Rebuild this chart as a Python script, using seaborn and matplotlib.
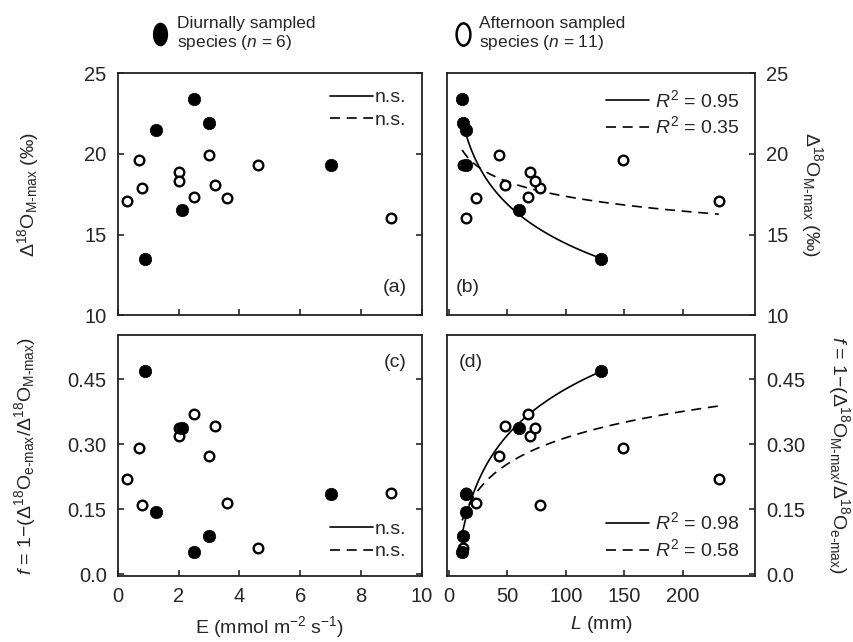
import numpy as np
import pandas as pd
import matplotlib
matplotlib.use("Agg")
import matplotlib.pyplot as plt
from matplotlib.lines import Line2D
import seaborn as sns

# --- Data ---
# Diurnally sampled species (filled circles)
E_DIURNAL = [0.9, 1.27, 2.1, 2.5, 3.0, 7.0]
D18O_DIURNAL = [13.5, 21.5, 16.5, 23.4, 21.9, 19.3]
F_DIURNAL = [0.47, 0.143, 0.337, 0.052, 0.089, 0.185]
L_DIURNAL = [130, 15, 60, 11.3, 12, 14.5]

# Afternoon sampled species (open circles)
E_AFTERNOON = [0.3, 0.7, 0.8, 2.0, 2.0, 3.0, 2.5, 3.2, 3.6, 4.6, 9.0]
D18O_AFTERNOON = [17.1, 19.6, 17.9, 18.9, 18.3, 19.9, 17.3, 18.05, 17.25, 19.3, 16.0]
F_AFTERNOON = [0.22, 0.291, 0.16, 0.318, 0.337, 0.273, 0.369, 0.342, 0.164, 0.06, 0.187]
L_AFTERNOON = [231, 149, 78, 69, 74, 43, 68, 48, 23, 12, 15]

# Legend texts
LEGEND_A = ["n.s.", "n.s."]
LEGEND_B = [r"$R^2$ = 0.95", r"$R^2$ = 0.35"]
LEGEND_C = ["n.s.", "n.s."]
LEGEND_D = [r"$R^2$ = 0.98", r"$R^2$ = 0.58"]

D18O_TICKS = [10, 15, 20, 25]
F_TICKS = [0.0, 0.15, 0.30, 0.45]
F_TICKLABELS = ["0.0", "0.15", "0.30", "0.45"]
E_TICKS = [0, 2, 4, 6, 8, 10]
L_TICKS = [0, 50, 100, 150, 200]

diurnal = pd.DataFrame({"E": E_DIURNAL, "d18O": D18O_DIURNAL, "f": F_DIURNAL, "L": L_DIURNAL})
afternoon = pd.DataFrame({"E": E_AFTERNOON, "d18O": D18O_AFTERNOON, "f": F_AFTERNOON, "L": L_AFTERNOON})
everyone = pd.concat([diurnal, afternoon], ignore_index=True)

# --- Style ---
sns.set_style("ticks")
plt.rcParams["font.family"] = ["Liberation Sans", "DejaVu Sans"]
plt.rcParams["mathtext.fontset"] = "custom"
plt.rcParams["mathtext.rm"] = "Liberation Sans"
plt.rcParams["mathtext.it"] = "Liberation Sans:italic"
plt.rcParams["mathtext.bf"] = "Liberation Sans:bold"
FS = 14
TICK_FS = 14.5

DASH = (0, (6, 4))
OPEN_KW = dict(s=48, color="white", edgecolor="black", linewidth=1.7, zorder=3)
FILLED_KW = dict(s=80, color="black", edgecolor="black", linewidth=0.5, zorder=4)


def style_axes(ax, right=False):
    for sp in ax.spines.values():
        sp.set_linewidth(1.3)
        sp.set_color("#222222")
    ax.tick_params(direction="in", length=4, width=1.2, labelsize=TICK_FS, pad=8,
                   left=not right, right=True, labelleft=not right, labelright=right,
                   bottom=True, top=False)


def draw_points(ax, xcol, ycol):
    sns.scatterplot(data=afternoon, x=xcol, y=ycol, ax=ax, **OPEN_KW)
    sns.scatterplot(data=diurnal, x=xcol, y=ycol, ax=ax, **FILLED_KW)


def draw_fits(ax, xcol, ycol):
    # log fits: diurnal species (solid) and all species (dashed)
    sns.regplot(data=diurnal, x=xcol, y=ycol, ax=ax, logx=True, scatter=False, ci=None,
                color="black", line_kws=dict(lw=1.2, zorder=2))
    sns.regplot(data=everyone, x=xcol, y=ycol, ax=ax, logx=True, scatter=False, ci=None,
                color="black", line_kws=dict(lw=1.2, ls=DASH, zorder=2))


def fit_legend(ax, labels, loc, pad):
    handles = [Line2D([], [], color="black", lw=1.2),
               Line2D([], [], color="black", lw=1.2, ls=DASH)]
    ax.legend(handles, labels, loc=loc, frameon=False, fontsize=FS, handlelength=2.2,
              handletextpad=pad, labelspacing=0.25, borderaxespad=0.4)


fig = plt.figure(figsize=(8.54, 6.42), dpi=100)
ax_a = fig.add_axes([0.138, 0.509, 0.356, 0.377])
ax_b = fig.add_axes([0.523, 0.509, 0.361, 0.377])
ax_c = fig.add_axes([0.138, 0.103, 0.356, 0.375])
ax_d = fig.add_axes([0.523, 0.103, 0.361, 0.375])

d18o_label = "Δ$^{18}$O$_\\mathrm{M‐max}$ (‰)"

# (a) E vs delta18O
draw_points(ax_a, "E", "d18O")
ax_a.set_xlim(0, 10)
ax_a.set_ylim(10, 25)
ax_a.set_xticks(E_TICKS)
ax_a.set_yticks(D18O_TICKS)
style_axes(ax_a)
ax_a.tick_params(labelbottom=False)
ax_a.set_xlabel("")
ax_a.set_ylabel(d18o_label, fontsize=FS, va="center")
ax_a.yaxis.set_label_coords(-0.295, 0.5)
fit_legend(ax_a, LEGEND_A, "upper right", 0.1)
ax_a.text(0.95, 0.08, "(a)", transform=ax_a.transAxes, ha="right", va="bottom", fontsize=FS)

# (b) L vs delta18O
draw_fits(ax_b, "L", "d18O")
draw_points(ax_b, "L", "d18O")
ax_b.set_xlim(-2, 262)
ax_b.set_ylim(10, 25)
ax_b.set_xticks(L_TICKS)
ax_b.set_yticks(D18O_TICKS)
style_axes(ax_b, right=True)
ax_b.tick_params(labelbottom=False)
ax_b.set_xlabel("")
ax_b.yaxis.set_label_position("right")
ax_b.set_ylabel(d18o_label, fontsize=FS, rotation=270, va="center")
ax_b.yaxis.set_label_coords(1.185, 0.5)
fit_legend(ax_b, LEGEND_B, "upper right", 0.3)
ax_b.text(0.03, 0.08, "(b)", transform=ax_b.transAxes, ha="left", va="bottom", fontsize=FS)

# (c) E vs f
draw_points(ax_c, "E", "f")
ax_c.set_xlim(0, 10)
ax_c.set_ylim(-0.004, 0.552)
ax_c.set_xticks(E_TICKS)
ax_c.set_yticks(F_TICKS)
ax_c.set_yticklabels(F_TICKLABELS)
style_axes(ax_c)
ax_c.set_xlabel("E (mmol m$^{−2}$ s$^{−1}$)", fontsize=FS, labelpad=6)
ax_c.set_ylabel("$f$ = 1−(Δ$^{18}$O$_\\mathrm{e‐max}$/Δ$^{18}$O$_\\mathrm{M‐max}$)",
                fontsize=FS, va="center")
ax_c.yaxis.set_label_coords(-0.305, 0.5)
fit_legend(ax_c, LEGEND_C, "lower right", 0.1)
ax_c.text(0.95, 0.92, "(c)", transform=ax_c.transAxes, ha="right", va="top", fontsize=FS)

# (d) L vs f
draw_fits(ax_d, "L", "f")
draw_points(ax_d, "L", "f")
ax_d.set_xlim(-2, 262)
ax_d.set_ylim(-0.004, 0.552)
ax_d.set_xticks(L_TICKS)
ax_d.set_yticks(F_TICKS)
ax_d.set_yticklabels(F_TICKLABELS)
style_axes(ax_d, right=True)
ax_d.set_xlabel("$L$ (mm)", fontsize=FS, labelpad=6)
ax_d.yaxis.set_label_position("right")
ax_d.set_ylabel("$f$ = 1−(Δ$^{18}$O$_\\mathrm{M‐max}$/Δ$^{18}$O$_\\mathrm{e‐max}$)",
                fontsize=FS, rotation=270, va="center")
ax_d.yaxis.set_label_coords(1.272, 0.5)
fit_legend(ax_d, LEGEND_D, "lower right", 0.3)
ax_d.text(0.04, 0.92, "(d)", transform=ax_d.transAxes, ha="left", va="top", fontsize=FS)

# top legend with tall elliptical markers
t = np.linspace(0, 2 * np.pi, 60)
ellipse = np.column_stack([0.62 * np.cos(t), np.sin(t)])
top_handles = [
    Line2D([], [], ls="none", marker=ellipse, markersize=16, markerfacecolor="black",
           markeredgecolor="black"),
    Line2D([], [], ls="none", marker=ellipse, markersize=16, markerfacecolor="white",
           markeredgecolor="black", markeredgewidth=1.8),
]
top_labels = ["Diurnally sampled\nspecies ($n$ = 6)", "Afternoon sampled\nspecies ($n$ = 11)"]
fig.legend(top_handles, top_labels, loc="center", bbox_to_anchor=(0.455, 0.947), ncol=2,
           frameon=False, fontsize=12.5, handlelength=1.0, handletextpad=0.45,
           columnspacing=8.0)

fig.savefig("out.png", dpi=100)
